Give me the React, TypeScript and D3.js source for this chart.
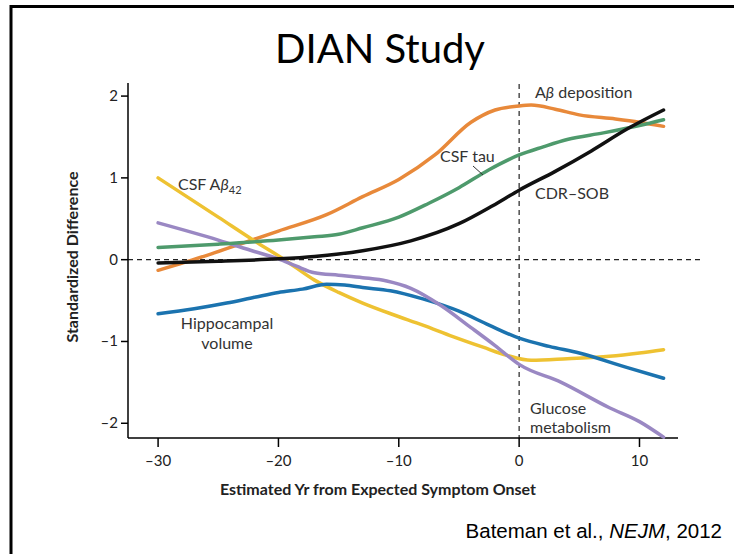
import React from 'react';
import * as d3 from 'd3';

const W = 734;
const H = 554;

// [years from expected onset, standardized difference]
const abDeposition = [
  [-30, -0.13], [-26, 0.05], [-23, 0.2], [-20, 0.35], [-16, 0.55], [-13, 0.77],
  [-10, 0.98], [-7, 1.28], [-4, 1.68], [-2, 1.83], [0, 1.88], [1, 1.89],
  [3, 1.84], [5, 1.77], [8, 1.72], [10, 1.68], [12, 1.63],
];
const csfTau = [
  [-30, 0.15], [-25, 0.19], [-20, 0.24], [-17, 0.28], [-15, 0.31], [-13, 0.39],
  [-10, 0.52], [-7.5, 0.69], [-5, 0.88], [-2.5, 1.1], [0, 1.28], [2, 1.38],
  [4, 1.47], [7, 1.55], [10, 1.64], [12, 1.71],
];
const cdrSob = [
  [-30, -0.04], [-25, -0.02], [-20, 0.01], [-17, 0.04], [-15, 0.07], [-13, 0.11],
  [-9, 0.23], [-5, 0.44], [-2.2, 0.66], [0, 0.85], [3, 1.08], [6, 1.33],
  [9, 1.6], [12, 1.83],
];
const csfAb42 = [
  [-30, 1.0], [-25, 0.52], [-22, 0.23], [-19.5, 0.0], [-17, -0.25], [-15, -0.4],
  [-13, -0.53], [-10.5, -0.67], [-8, -0.8], [-5.5, -0.94], [-3, -1.07], [-1, -1.17],
  [1, -1.23], [4, -1.21], [7.5, -1.18], [10, -1.14], [12, -1.1],
];
const glucose = [
  [-30, 0.45], [-25, 0.24], [-22, 0.1], [-20, 0.01], [-18.5, -0.08], [-17, -0.16],
  [-15, -0.19], [-13, -0.22], [-11, -0.26], [-9, -0.35], [-6.5, -0.56], [-4, -0.83],
  [-2, -1.05], [0, -1.28], [3.5, -1.5], [7.5, -1.81], [10, -1.98], [12, -2.17],
];
const hippocampal = [
  [-30, -0.66], [-27, -0.6], [-24.3, -0.53], [-22, -0.46], [-20, -0.4], [-18, -0.36],
  [-16, -0.3], [-14.5, -0.31], [-13, -0.34], [-10.7, -0.38], [-8, -0.48], [-5, -0.63],
  [-2.5, -0.8], [0, -0.96], [2.5, -1.06], [5, -1.14], [9, -1.32], [12, -1.45],
];

const xTicks = [-30, -20, -10, 0, 10];
const yTicks = [-2, -1, 0, 1, 2];

// drawn bottom to top
const series = [
  { key: 'ab', data: abDeposition, color: '#E8893A' },
  { key: 'csf42', data: csfAb42, color: '#EEC232' },
  { key: 'hippo', data: hippocampal, color: '#1B73AF' },
  { key: 'glucose', data: glucose, color: '#9A88C3' },
  { key: 'tau', data: csfTau, color: '#4E9A6C' },
  { key: 'cdr', data: cdrSob, color: '#111111' },
];

const fmt = (v: number) => (v < 0 ? '\u2013' + Math.abs(v) : String(v));

export default function App() {
  const x = d3.scaleLinear().domain([-32.5, 13.2]).range([128, 678]);
  const y = d3.scaleLinear().domain([-2.18, 2.16]).range([438, 83]);

  const line = d3.line<number[]>()
    .x(d => x(d[0]))
    .y(d => y(d[1]))
    .curve(d3.curveMonotoneX);

  const font = 'Lato, "Open Sans", sans-serif';

  return (
    <div style={{ position: 'fixed', left: 0, top: 0 }}>
      <svg width={W} height={H} style={{ display: 'block', background: '#fff' }}>
        <rect x={11} y={6.5} width={900} height={700} fill="none" stroke="#000" strokeWidth={3} />

        <text x={380} y={63} textAnchor="middle" fontFamily={font} fontSize={40} fill="#000">
          DIAN Study
        </text>

        {/* reference lines */}
        <line x1={x.range()[0]} x2={703} y1={y(0)} y2={y(0)} stroke="#222" strokeWidth={1.2} strokeDasharray="5,4" />
        <line x1={x(0)} x2={x(0)} y1={84} y2={438} stroke="#222" strokeWidth={1.2} strokeDasharray="5,4" />

        {/* axes */}
        <line x1={128} x2={128} y1={83} y2={438} stroke="#000" strokeWidth={1.5} />
        <line x1={128} x2={678} y1={438} y2={438} stroke="#000" strokeWidth={1.5} />
        {yTicks.map(t => (
          <g key={'y' + t}>
            <line x1={121} x2={128} y1={y(t)} y2={y(t)} stroke="#000" strokeWidth={1.5} />
            <text x={118} y={y(t) + 5} textAnchor="end" fontFamily={font} fontSize={15} fill="#222">
              {fmt(t)}
            </text>
          </g>
        ))}
        {xTicks.map(t => (
          <g key={'x' + t}>
            <line x1={x(t)} x2={x(t)} y1={438} y2={447} stroke="#000" strokeWidth={1.5} />
            <text x={x(t)} y={466} textAnchor="middle" fontFamily={font} fontSize={15} fill="#222">
              {fmt(t)}
            </text>
          </g>
        ))}

        <text transform="translate(78,257) rotate(-90)" textAnchor="middle" fontFamily={font}
          fontSize={16} fontWeight="bold" fill="#222">
          Standardized Difference
        </text>
        <text x={378} y={495} textAnchor="middle" fontFamily={font} fontSize={16} fontWeight="bold" fill="#222">
          Estimated Yr from Expected Symptom Onset
        </text>

        {/* curves */}
        {series.map(s => (
          <path key={s.key} d={line(s.data) || ''} fill="none" stroke={s.color} strokeWidth={3.5}
            strokeLinecap="round" strokeLinejoin="round" />
        ))}

        {/* series labels */}
        <g fontFamily={font} fontSize={16} fill="#333">
          <text x={178} y={190}>
            CSF A<tspan fontStyle="italic">β</tspan><tspan fontSize={11} dy={4}>42</tspan>
          </text>
          <text x={535} y={98}>
            A<tspan fontStyle="italic">β</tspan> deposition
          </text>
          <text x={440} y={162}>CSF tau</text>
          <line x1={473} y1={166} x2={483} y2={175} stroke="#333" strokeWidth={1} />
          <text x={535} y={199}>CDR–SOB</text>
          <text x={227} y={329} textAnchor="middle">Hippocampal</text>
          <text x={227} y={349} textAnchor="middle">volume</text>
          <text x={530} y={414}>Glucose</text>
          <text x={530} y={433}>metabolism</text>
        </g>

        <text x={722} y={538} textAnchor="end" fontFamily='"Liberation Sans", Arial, sans-serif' fontSize={20.5} fill="#000">
          Bateman et al., <tspan fontStyle="italic">NEJM</tspan>, 2012
        </text>
      </svg>
    </div>
  );
}
